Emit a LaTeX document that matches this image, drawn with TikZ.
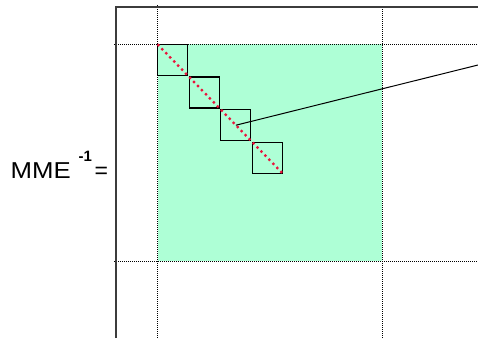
\documentclass[tikz,border=0pt]{standalone}
\usepackage{fontspec}
\setmainfont{Liberation Sans}
\usepackage{tikz}
\usetikzlibrary{positioning, calc}
\definecolor{mintfill}{RGB}{174,255,214}
\definecolor{diagred}{RGB}{232,20,60}
\definecolor{framegray}{RGB}{60,60,60}

\begin{document}
\begin{tikzpicture}[x=1pt, y=-1pt,
            grid/.style={black, line width=0.8pt, dash pattern=on 1pt off 1pt},
            frame/.style={draw=framegray, line width=1.5pt},
            blk/.style={draw=black, line width=1.1pt, minimum width=30pt,
            minimum height=31pt, inner sep=0pt, outer sep=0pt},
            lbl/.style={inner sep=0pt, anchor=base west}]
          \useasboundingbox (0,0) rectangle (478,338);
          % block area
          \fill[mintfill] (157.5,44.3) rectangle (382,261);
          \draw[grid] (157.5,5) -- (157.5,338);
          \draw[grid] (382,7) -- (382,338);
          \draw[grid] (114,44.3) -- (478,44.3);
          \draw[grid] (114,261) -- (478,261);
          \draw[frame] (116,338) -- (116,7) -- (478,7);
          % diagonal blocks
          \node[blk, anchor=north west] (b1) at (157.5,44.3) {};
          \node[blk, below right=1.7pt and 1.7pt of b1.south east] (b2) {};
          \node[blk, below right=1.7pt and 1.7pt of b2.south east] (b3) {};
          \node[blk, below right=1.7pt and 1.7pt of b3.south east] (b4) {};
          \draw[diagred, line width=2.3pt, dash pattern=on 2.3pt off 3.4pt]
                (b1.north west) -- (b4.south east);
          \coordinate (out) at (478,65);
          \draw[black, line width=1pt] (b3.center) -- (out);
          % label
          \node[lbl, font=\fontsize{23}{26}\selectfont, xscale=1.12] (mme) at (10.5,178.3) {MME};
          \node[lbl, font=\fontsize{15}{17}\selectfont\bfseries] (inv) at (78.5,161.7) {-1};
          \node[lbl, font=\fontsize{23}{26}\selectfont] (eq) at (94.5,178.3) {=};
        \end{tikzpicture}
\end{document}
